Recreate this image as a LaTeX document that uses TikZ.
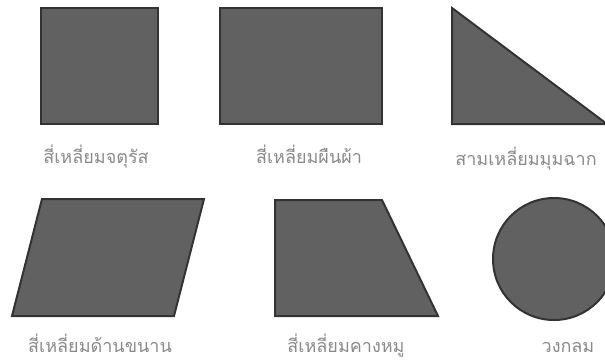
\documentclass[tikz,border=0pt]{standalone}
\usepackage{fontspec}
\newfontfamily\thaifont[Script=Thai]{Loma}
\definecolor{shapefill}{HTML}{616161}
\definecolor{shapeline}{HTML}{333333}
\definecolor{labelgray}{HTML}{8A8A8A}
\begin{document}
\begin{tikzpicture}[x=1pt,y=-1pt,
  shapestyle/.style={fill=shapefill,draw=shapeline,line width=2pt,line join=miter},
  lbl/.style={text=labelgray,font=\thaifont\fontsize{18}{20}\selectfont,inner sep=0pt,anchor=base}]
\useasboundingbox (0,0) rectangle (605,360);
\clip (0,0) rectangle (605,360);
% square
\draw[shapestyle] (41,8) rectangle (158,124);
\node[lbl] (l1) at (96,163) {สี่เหลี่ยมจตุรัส};
% rectangle
\draw[shapestyle] (220,8) rectangle (382,124);
\node[lbl] (l2) at (309,163) {สี่เหลี่ยมผืนผ้า};
% right triangle
\draw[shapestyle] (452,8) -- (452,124) -- (607,124) -- cycle;
\node[lbl] (l3) at (526,165) {สามเหลี่ยมมุมฉาก};
% parallelogram
\draw[shapestyle] (42,199) -- (204,199) -- (174,316) -- (12,316) -- cycle;
\node[lbl] (l4) at (100,352) {สี่เหลี่ยมด้านขนาน};
% trapezoid
\draw[shapestyle] (275,200) -- (382,200) -- (438,316) -- (275,316) -- cycle;
\node[lbl] (l5) at (346,352) {สี่เหลี่ยมคางหมู};
% circle
\draw[shapestyle] (554,259) circle (61);
\node[lbl] (l6) at (568,352) {วงกลม};
\end{tikzpicture}
\end{document}
